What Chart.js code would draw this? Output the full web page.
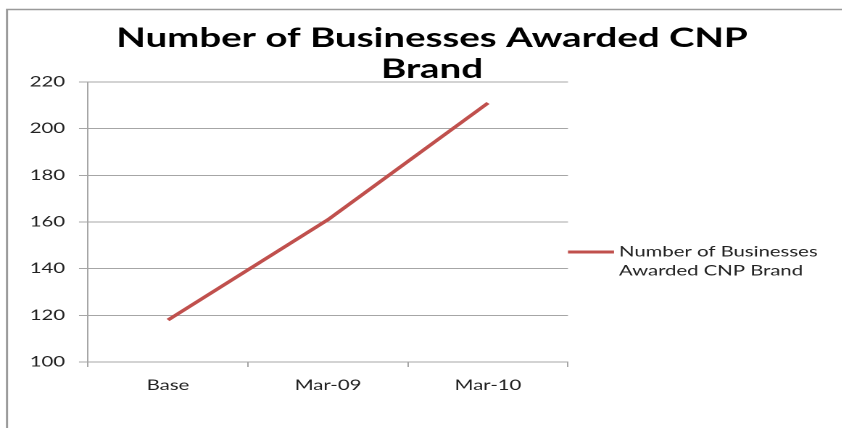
<!DOCTYPE html>
<html>
<head>
<meta charset="utf-8">
<script src="https://cdn.jsdelivr.net/npm/chart.js@4"></script>
<style>
  html, body { margin: 0; padding: 0; background: #fff; overflow: hidden; }
  /* the chart is drawn narrow and widened, like the stretched office chart it comes from */
  #wrap { position: absolute; left: 0; top: 0; width: 581px; height: 428px;
          transform: scaleX(1.45); transform-origin: 0 0; }
</style>
</head>
<body>
<div id="wrap"><canvas id="chart"></canvas></div>
<script>
const categories = ["Base", "Mar-09", "Mar-10"];
const businesses = [118, 161, 211];
const titleLines = ["Number of Businesses Awarded CNP", "Brand"];
const legendLines = ["Number of Businesses", "Awarded CNP Brand"];
const yTicks = [100, 120, 140, 160, 180, 200, 220];

const SX = 1.45;          // horizontal stretch of the wrapper
const W = 581;
const lineColor = "#c0504d";
const gridColor = "#a6a6a6";
const textColor = "#222";

// frame, title and two-line legend
const decorations = {
  id: "decorations",
  beforeDraw(chart) {
    const ctx = chart.ctx;
    ctx.save();
    ctx.strokeStyle = "#9a9a9a";
    ctx.lineWidth = 1.5;
    ctx.strokeRect(7 / SX, 9.5, W + 20, 600);
    ctx.restore();
  },
  afterDraw(chart) {
    const ctx = chart.ctx;
    ctx.save();
    ctx.fillStyle = "#000";
    ctx.font = "bold 26.5px Lato";
    ctx.textAlign = "center";
    ctx.textBaseline = "alphabetic";
    ctx.fillText(titleLines[0], 432 / SX, 47);
    ctx.fillText(titleLines[1], 432 / SX, 78);

    const area = chart.chartArea;
    ctx.strokeStyle = lineColor;
    ctx.lineWidth = 3;
    ctx.beginPath();
    ctx.moveTo(area.right, 252);
    ctx.lineTo(area.right + 46 / SX, 252);
    ctx.stroke();
    ctx.fillStyle = textColor;
    ctx.font = "14px Lato";
    ctx.textAlign = "left";
    ctx.textBaseline = "middle";
    legendLines.forEach((t, i) => ctx.fillText(t, area.right + 51 / SX, 252 + i * 19));
    ctx.restore();
  }
};

const ctx = document.getElementById("chart").getContext("2d");
new Chart(ctx, {
  type: "line",
  data: {
    labels: categories,
    datasets: [{
      label: legendLines.join(" "),
      data: businesses,
      borderColor: lineColor,
      backgroundColor: lineColor,
      borderWidth: 3,
      pointRadius: 0,
      tension: 0
    }]
  },
  options: {
    responsive: true,
    maintainAspectRatio: false,
    animation: false,
    devicePixelRatio: 2,
    layout: { padding: { left: 0, top: 82, right: W - 568 / SX, bottom: 36 } },
    plugins: {
      legend: { display: false },
      title: { display: false },
      tooltip: { enabled: false }
    },
    scales: {
      x: {
        offset: true,
        afterFit: s => { s.height = 30; },
        grid: { offset: true, drawOnChartArea: false, drawTicks: true, tickLength: 5, color: gridColor },
        border: { display: true, color: gridColor, width: 1 },
        ticks: { color: textColor, font: { family: "Lato", size: 14 }, padding: 10, maxRotation: 0, autoSkip: false }
      },
      y: {
        min: 100,
        max: 220,
        afterFit: s => { s.width = 88 / SX; },
        afterBuildTicks: s => { s.ticks = yTicks.map(v => ({ value: v })); },
        grid: { color: gridColor, lineWidth: 1, drawTicks: true, tickLength: 9 / SX },
        border: { display: true, color: gridColor, width: 1 },
        ticks: { color: textColor, font: { family: "Lato", size: 14 }, padding: 14 / SX }
      }
    }
  },
  plugins: [decorations]
});
</script>
</body>
</html>
